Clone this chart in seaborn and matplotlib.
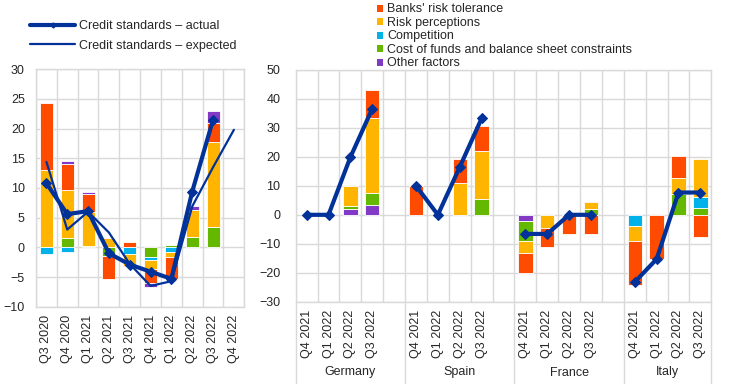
import numpy as np
import pandas as pd
import matplotlib
matplotlib.use("Agg")
import matplotlib.pyplot as plt
import seaborn as sns
from matplotlib.lines import Line2D
from matplotlib.patches import Patch

# ---------------- data ----------------
left_quarters = ["Q3 2020", "Q4 2020", "Q1 2021", "Q2 2021", "Q3 2021",
                 "Q4 2021", "Q1 2022", "Q2 2022", "Q3 2022", "Q4 2022"]
l_risk_tol = [11.3, 4.4, 3.1, -3.9, 0.9, -2.4, -3.8, 0.0, 3.1, 0.0]
l_risk_perc = [13.0, 8.0, 5.6, 1.5, -2.1, -1.4, -0.9, 4.5, 14.4, 0.0]
l_competition = [-1.2, -0.8, 0.0, 0.0, -1.1, -0.5, -0.7, 0.0, 0.0, 0.0]
l_cost_funds = [0.0, 1.6, 0.3, -1.4, 0.0, -1.7, 0.4, 1.8, 3.4, 0.0]
l_other = [0.0, 0.6, 0.4, 0.0, 0.0, -0.6, 0.0, 0.6, 2.0, 0.0]
l_actual = [10.8, 5.6, 6.1, -1.0, -2.9, -4.1, -5.3, 9.4, 21.5]
l_expected = [14.4, 3.0, 6.0, 2.5, -2.8, -6.5, -5.7, 6.9, 13.5, 19.8]

countries = ["Germany", "Spain", "France", "Italy"]
right_quarters = ["Q4 2021", "Q1 2022", "Q2 2022", "Q3 2022"]
r_risk_tol = [0, 0, 0, 9.9, 9.9, 0, 8.4, 8.3, -6.8, -6.6, -6.7, -6.7, -15.0, -15.4, 7.7, -7.7]
r_risk_perc = [0, 0, 6.8, 25.6, 0, 0, 11.0, 16.7, -4.3, -4.6, 0, 2.4, -5.3, 0, 5.5, 13.0]
r_competition = [0, 0, 0, 0, 0, 0, 0, 0, 0, 0, 0, 0, -3.9, 0, 0, 3.8]
r_cost_funds = [0, 0, 1.2, 4.4, 0, 0, 0, 5.5, -6.6, 0, 0, 2.0, 0, 0, 7.2, 2.3]
r_other = [0, 0, 2.0, 3.3, 0, 0, 0, 0, -2.3, 0, 0, 0, 0, 0, 0, 0]
r_actual = [0, 0, 19.9, 36.6, 10.0, 0, 16.5, 33.3, -6.6, -6.6, 0, 0, -23.2, -15.3, 7.7, 7.7]

legend_labels = ["Banks' risk tolerance", "Risk perceptions", "Competition",
                 "Cost of funds and balance sheet constraints", "Other factors"]

# ---------------- style ----------------
sns.set_style("white")
plt.rcParams['font.family'] = ['Liberation Sans', 'DejaVu Sans']
plt.rcParams['font.size'] = 9

C_RED, C_ORA, C_BLU, C_GRN, C_PUR = "#FF4B00", "#FFB400", "#00B1EA", "#65B800", "#8139C6"
C_LINE = "#003299"
C_GRID = "#d9d9d9"

fig = plt.figure(figsize=(7.44, 3.84), dpi=100)
axL = fig.add_axes([36 / 744, 1 - 306.7 / 384, 208.3 / 744, 237.4 / 384])
axR = fig.add_axes([295.7 / 744, 1 - 301.7 / 384, 415.6 / 744, 231.7 / 384])


def stack(ax, x, series, width):
    x = np.asarray(x, float)
    pos = np.zeros(len(x))
    neg = np.zeros(len(x))
    for vals, col in series:
        v = np.asarray(vals, float)
        bottom = np.where(v >= 0, pos, neg)
        m = v != 0
        ax.bar(x[m], v[m], bottom=bottom[m], width=width, color=col,
               edgecolor="white", linewidth=0.6, zorder=2)
        pos += np.where(v > 0, v, 0)
        neg += np.where(v < 0, v, 0)


def style_axis(ax, n, ylim, yticks, ypad):
    ax.set_xlim(-0.5, n - 0.5)
    ax.set_ylim(*ylim)
    ax.set_yticks(yticks)
    ax.set_xticks(np.arange(-0.5, n, 1.0), minor=True)
    ax.set_axisbelow(True)
    ax.grid(which="minor", axis="x", color=C_GRID, lw=1)
    ax.grid(which="major", axis="y", color=C_GRID, lw=1)
    ax.grid(which="major", axis="x", visible=False)
    for s in ax.spines.values():
        s.set_color(C_GRID)
        s.set_linewidth(1)
    ax.tick_params(which="both", length=0)
    ax.tick_params(axis="y", pad=ypad)
    ax.tick_params(axis="x", pad=6)
    ax.set_xlabel("")
    ax.set_ylabel("")


# ---------------- left panel ----------------
xl = np.arange(len(left_quarters))
stack(axL, xl, [(l_cost_funds, C_GRN), (l_competition, C_BLU), (l_risk_perc, C_ORA),
                (l_risk_tol, C_RED), (l_other, C_PUR)], 0.62)
dfa = pd.DataFrame({"x": xl[:len(l_actual)], "y": l_actual})
dfe = pd.DataFrame({"x": xl[:len(l_expected)], "y": l_expected})
sns.lineplot(data=dfe, x="x", y="y", ax=axL, color=C_LINE, lw=1.6, zorder=3, legend=False)
sns.lineplot(data=dfa, x="x", y="y", ax=axL, color=C_LINE, lw=3, marker="D",
             markersize=5.5, markeredgecolor=C_LINE, zorder=4, legend=False)
style_axis(axL, len(left_quarters), (-10, 30), np.arange(-10, 31, 5), 8)
axL.set_xticks(xl)
axL.set_xticklabels(left_quarters, rotation=90)

# ---------------- right panel ----------------
xr = np.array([ci * 5 + qi for ci in range(len(countries)) for qi in range(len(right_quarters))])
stack(axR, xr, [(r_other, C_PUR), (r_cost_funds, C_GRN), (r_competition, C_BLU),
                (r_risk_perc, C_ORA), (r_risk_tol, C_RED)], 0.66)
dfr = pd.DataFrame({"x": xr, "y": r_actual,
                    "country": np.repeat(countries, len(right_quarters))})
sns.lineplot(data=dfr, x="x", y="y", units="country", estimator=None, ax=axR,
             color=C_LINE, lw=3, marker="D", markersize=5.5, markeredgecolor=C_LINE,
             zorder=4, legend=False)
nR = 19
style_axis(axR, nR, (-30, 50), np.arange(-30, 51, 10), 11)
axR.set_xticks(xr)
axR.set_xticklabels(right_quarters * len(countries), rotation=90)

sep_bottom = -(384 - 301.7) / 231.7
for xs in [-0.5, 4.5, 9.5, 14.5, 18.5]:
    axR.plot([xs, xs], [0, sep_bottom], transform=axR.get_xaxis_transform(),
             color=C_GRID, lw=1, clip_on=False)
centers = [2.0, 7.0, 12.0, 16.5]
for c, name in zip(centers, countries):
    axR.text(c, -(372.5 - 301.7) / 231.7, name, transform=axR.get_xaxis_transform(),
             ha="center", va="center")

# ---------------- legends ----------------
hL = [Line2D([], [], color=C_LINE, lw=3, marker="D", markersize=2.5),
      Line2D([], [], color=C_LINE, lw=1.6)]
fig.legend(hL, ["Credit standards \u2013 actual", "Credit standards \u2013 expected"],
           loc="upper left", bbox_to_anchor=(30 / 744, 1 - 20 / 384), frameon=False,
           borderpad=0, borderaxespad=0, handlelength=3.6, handletextpad=0.35,
           labelspacing=0.62)

hR = [Patch(facecolor=c, edgecolor="none") for c in [C_RED, C_ORA, C_BLU, C_GRN, C_PUR]]
fig.legend(hR, legend_labels, loc="upper left", bbox_to_anchor=(377 / 744, 1 - 3.5 / 384),
           frameon=False, borderpad=0, borderaxespad=0, handlelength=0.5,
           handleheight=0.5, handletextpad=0.3, labelspacing=0.12)

fig.savefig("out.png", dpi=100)
